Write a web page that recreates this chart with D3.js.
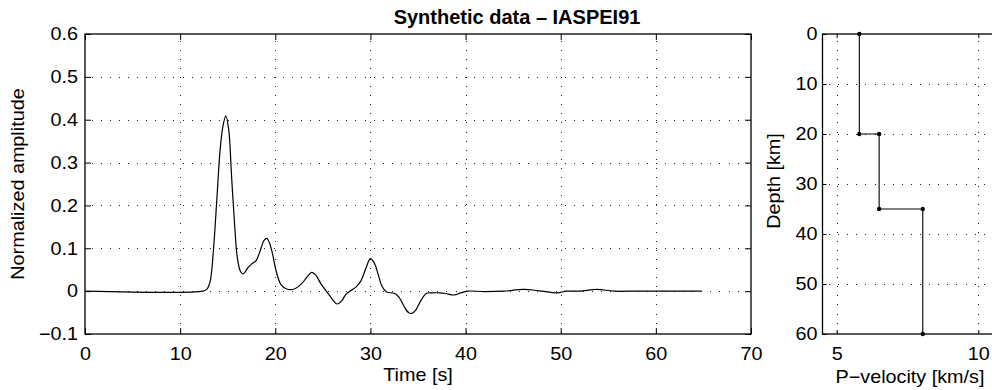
<!DOCTYPE html>
<html>
<head>
<meta charset="UTF-8">
<title>Synthetic data - IASPEI91</title>
<script src="https://cdn.jsdelivr.net/npm/d3@7"></script>
<style>
  body { margin: 0; background: #fff; }
  svg { display: block; font-family: "Liberation Sans", Arial, Helvetica, sans-serif; }
  .grid line { stroke: #222; stroke-width: 1; stroke-dasharray: 1 8.1; shape-rendering: crispEdges; }
</style>
</head>
<body>
<svg width="992" height="390"></svg>
<script>
// waveform (time in s, normalized amplitude)
const time = [0, 12.4, 12.8, 13.15, 13.5, 13.85, 14.2, 14.5, 14.8, 15.1,
  15.4, 15.7, 16.0, 16.3, 16.55, 16.8, 17.1, 17.5, 18.0, 18.5,
  18.8, 19.1, 19.4, 19.7, 20.1, 20.6, 21.2, 22.0, 22.8, 23.3,
  23.85, 24.3, 24.8, 25.5, 26.0, 26.5, 27.0, 27.4, 28.0, 28.5,
  29.0, 29.5, 30.0, 30.4, 30.8, 31.2, 31.7, 32.5, 33.0, 33.5,
  34.0, 34.35, 34.8, 35.3, 35.9, 36.5, 37.3, 38.0, 38.8, 39.5,
  40.2, 42, 44, 46.1, 48, 49.6, 50.6, 52, 53.8, 55.6,
  58, 61, 64.8];
const amplitude = [0, 0, 0.004, 0.022, 0.096, 0.212, 0.329, 0.385, 0.409, 0.378,
  0.27, 0.163, 0.08, 0.048, 0.040, 0.044, 0.054, 0.063, 0.072, 0.100,
  0.118, 0.123, 0.112, 0.088, 0.046, 0.015, 0.005, 0.005, 0.018, 0.032,
  0.044, 0.036, 0.017, -0.004, -0.019, -0.030, -0.022, -0.008, 0.002, 0.010,
  0.024, 0.052, 0.076, 0.066, 0.040, 0.012, -0.002, -0.005, -0.014, -0.034,
  -0.050, -0.052, -0.043, -0.022, -0.005, -0.004, -0.004, -0.006, -0.009, -0.004,
  0, -0.001, 0, 0.004, 0, -0.004, 0, 0, 0.004, 0,
  0, 0, 0];
const timeTicks = [0, 10, 20, 30, 40, 50, 60, 70];
const ampTicks = [-0.1, 0, 0.1, 0.2, 0.3, 0.4, 0.5, 0.6];

// IASPEI91 crust/upper mantle P-velocity steps
const velocity = [5.8, 5.8, 6.5, 6.5, 8.04, 8.04];
const depth = [0, 20, 20, 35, 35, 60];
const velTicks = [5, 10];
const depthTicks = [0, 10, 20, 30, 40, 50, 60];

const svg = d3.select("svg");
const stretch = 1.1;   // the original font is wider than Helvetica/Arial

const x = d3.scaleLinear().domain([0, 70]).range([85, 751]);
const y = d3.scaleLinear().domain([-0.1, 0.6]).range([334, 34]);
const vx = d3.scaleLinear().domain([4.5, 10.65]).range([822.5, 996.7]);
const vy = d3.scaleLinear().domain([0, 60]).range([34, 334]);

function frame(xs, ys, xTicks, yTicks, tick, fmtX, fmtY, yPad) {
  const [x0, x1] = xs.range(), [yb, yt] = d3.extent(ys.range()).reverse();
  const top = Math.min(yb, yt), bot = Math.max(yb, yt);
  const g = svg.append("g");

  const grid = g.append("g").attr("class", "grid");
  grid.selectAll(".gx")
    .data(xTicks.filter(v => xs(v) > x0 + 1 && xs(v) < x1 - 1))
    .join("line").attr("class", "gx")
    .attr("x1", d => Math.round(xs(d))).attr("x2", d => Math.round(xs(d)))
    .attr("y1", top).attr("y2", bot)
    .attr("stroke-dashoffset", 2.6);
  grid.selectAll(".gy")
    .data(yTicks.filter(v => ys(v) > top + 1 && ys(v) < bot - 1))
    .join("line").attr("class", "gy")
    .attr("y1", d => Math.round(ys(d))).attr("y2", d => Math.round(ys(d)))
    .attr("x1", x0).attr("x2", x1)
    .attr("stroke-dashoffset", 2.6);

  g.append("g").attr("transform", `translate(0,${bot})`)
    .call(d3.axisBottom(xs).tickValues(xTicks).tickSize(-tick).tickSizeOuter(0)
      .tickPadding(13).tickFormat(fmtX));
  g.append("g").attr("transform", `translate(0,${top})`)
    .call(d3.axisTop(xs).tickValues(xTicks).tickSize(-tick).tickSizeOuter(0).tickFormat(""));
  g.append("g").attr("transform", `translate(${x0},0)`)
    .call(d3.axisLeft(ys).tickValues(yTicks).tickSize(-tick).tickSizeOuter(0)
      .tickPadding(yPad / stretch).tickFormat(fmtY));
  g.append("g").attr("transform", `translate(${x1},0)`)
    .call(d3.axisRight(ys).tickValues(yTicks).tickSize(-tick).tickSizeOuter(0).tickFormat(""));

  g.selectAll(".domain").remove();
  g.selectAll("g").attr("font-family", null).attr("font-size", null);
  g.selectAll(".tick line").attr("stroke", "#000").attr("stroke-width", 1);
  g.selectAll(".tick text")
    .attr("font-size", 18).attr("fill", "#000")
    .attr("transform", `scale(${stretch},1)`);

  g.append("rect")
    .attr("x", x0).attr("y", top).attr("width", x1 - x0).attr("height", bot - top)
    .attr("fill", "none").attr("stroke", "#000").attr("stroke-width", 1.3);
  return g;
}

function label(txt, px, py, rot, opts = {}) {
  svg.append("text")
    .attr("transform", `translate(${px},${py}) rotate(${rot}) scale(${opts.sx || stretch},1)`)
    .attr("text-anchor", "middle")
    .attr("font-size", opts.size || 18)
    .attr("font-weight", opts.weight || "normal")
    .attr("fill", "#000")
    .text(txt);
}

// ---- left panel: waveform
const ampFmt = d => d === 0 ? "0" : d3.format(".1f")(d);
frame(x, y, timeTicks, ampTicks, 6, d3.format("d"), ampFmt, 7);

const wave = d3.line()
  .x((d, i) => x(time[i]))
  .y(d => y(d))
  .curve(d3.curveCatmullRom.alpha(0.5));

svg.append("path")
  .datum(amplitude)
  .attr("fill", "none")
  .attr("stroke", "#000")
  .attr("stroke-width", 1.2)
  .attr("d", wave);

label("Time [s]", (x.range()[0] + x.range()[1]) / 2, 381, 0);
label("Normalized amplitude", 24, (y.range()[0] + y.range()[1]) / 2, -90);
label("Synthetic data \u2013 IASPEI91", 517, 23.5, 0, { sx: 1, size: 20, weight: "bold" });

// ---- right panel: velocity model
frame(vx, vy, velTicks, depthTicks, 4, d3.format("d"), d3.format("d"), 5);

const profile = velocity.map((v, i) => [v, depth[i]]);
svg.append("path")
  .datum(profile)
  .attr("fill", "none")
  .attr("stroke", "#000")
  .attr("stroke-width", 1.1)
  .attr("d", d3.line().x(d => vx(d[0])).y(d => vy(d[1])));

svg.selectAll(".vp-dot")
  .data(profile)
  .join("circle")
  .attr("class", "vp-dot")
  .attr("cx", d => vx(d[0]))
  .attr("cy", d => vy(d[1]))
  .attr("r", 2.2)
  .attr("fill", "#000");

label("Depth [km]", 780, 181, -90);
label("P\u2212velocity [km/s]", 910, 383, 0);
</script>
</body>
</html>
